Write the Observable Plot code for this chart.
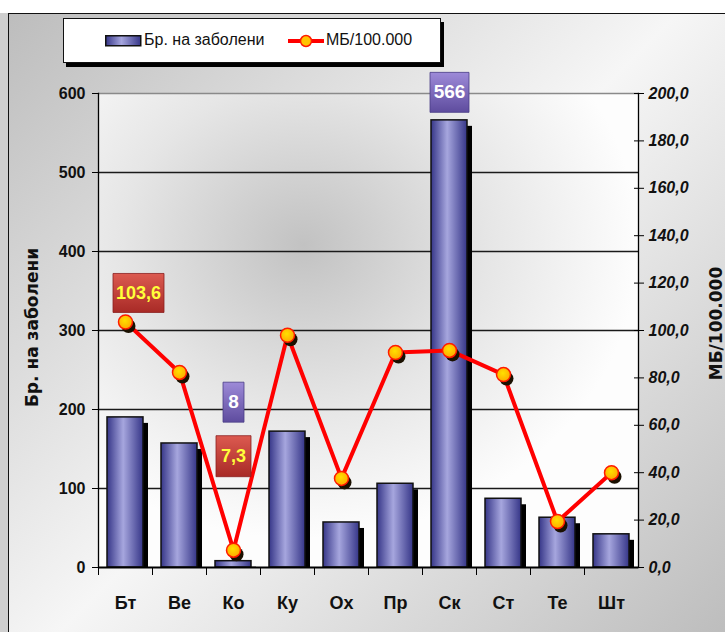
<!DOCTYPE html>
<html>
<head>
<meta charset="utf-8">
<script src="https://cdn.jsdelivr.net/npm/d3@7"></script>
<script src="https://cdn.jsdelivr.net/npm/@observablehq/plot@0.6"></script>
<style>
  html, body { margin: 0; padding: 0; background: #fff; }
  #wrap { position: relative; width: 725px; height: 632px; overflow: hidden;
    font-family: "Liberation Sans", Arial, sans-serif; }
  #bg { position: absolute; left: 8px; top: 13px; right: -2px; bottom: -2px;
    border: 1.5px solid #111;
    background: linear-gradient(135deg, #bdbdbd 0%, #f6f6f6 50%, #bdbdbd 100%); }
  #outer { position: absolute; left: 0; top: 13px; width: 8px; bottom: 0; background: #cfcfcf; }
  #chart { position: absolute; left: 0; top: 0; }
  #legend { position: absolute; left: 63px; top: 18px; width: 376px; height: 43px;
    background: #fff; border: 1px solid #111; box-shadow: 3px 4px 0 #000; }
  .lg { position: absolute; top: 12px; font-size: 16px; color: #111; white-space: nowrap; }
</style>
</head>
<body>
<div id="wrap">
  <div id="outer"></div>
  <div id="bg"></div>
  <div id="chart"></div>
  <div id="legend">
    <svg style="position:absolute;left:41px;top:16px" width="37" height="12">
      <defs><linearGradient id="lgBar" x1="0" x2="1"><stop offset="0" stop-color="#363688"/><stop offset="0.45" stop-color="#a6a6de"/><stop offset="1" stop-color="#363688"/></linearGradient></defs>
      <rect x="0.75" y="0.75" width="35" height="10" fill="url(#lgBar)" stroke="#111" stroke-width="1.5"/>
    </svg>
    <span class="lg" style="left:80px">Бр. на заболени</span>
    <svg style="position:absolute;left:224px;top:14px" width="38" height="16">
      <line x1="0" x2="36" y1="8" y2="8" stroke="#ff0000" stroke-width="4"/>
      <circle cx="18" cy="8" r="5.5" fill="#ffc400" stroke="#ff1a00" stroke-width="1.5"/>
    </svg>
    <span class="lg" style="left:262px">МБ/100.000</span>
  </div>
</div>
<script>
// ---- data ----
const districts = ["Бт", "Ве", "Ко", "Ку", "Ох", "Пр", "Ск", "Ст", "Те", "Шт"];
const cases = [190, 157, 8, 172, 57, 106, 566, 87, 63, 42];
const rates = [103.6, 82.3, 7.3, 98.0, 37.6, 90.7, 91.6, 81.4, 19.4, 40.0];
const leftTicks = [0, 100, 200, 300, 400, 500, 600];
const rightTicks = [0, 20, 40, 60, 80, 100, 120, 140, 160, 180, 200];
const leftTitle = "Бр. на заболени";
const rightTitle = "МБ/100.000";

const rows = districts.map((d, i) => ({district: d, cases: cases[i], rate: rates[i]}));
const ratio = 600 / 200; // right axis mapped onto left scale
const fmt = v => v.toFixed(1).replace(".", ",");

const FONT = "Liberation Sans, Arial, sans-serif";
const TITLE_FONT = "DejaVu Sans, Verdana, sans-serif";

function boxSymbol(w, h) {
  return { draw(ctx) { ctx.rect(-w / 2, -h / 2, w, h); } };
}

const bt = rows.find(r => r.district === "Бт");
const ko = rows.find(r => r.district === "Ко");
const sk = rows.find(r => r.district === "Ск");
const blank = () => "";

const plot = Plot.plot({
  width: 725,
  height: 632,
  marginTop: 93,
  marginBottom: 65,
  marginLeft: 98,
  marginRight: 87,
  style: { background: "transparent", fontFamily: FONT },
  x: { type: "band", domain: districts, paddingInner: 0.33, paddingOuter: 0.165 },
  y: { domain: [0, 600] },
  marks: [
    Plot.frame({ fill: "url(#plotGrad)", stroke: "none" }),
    Plot.ruleY(leftTicks.filter(t => t > 0 && t < 600), { stroke: "#1a1a1a", strokeWidth: 1.3 }),
    Plot.ruleY([600], { stroke: "#8a8a8a", strokeWidth: 1.5 }),
    // bar shadows
    Plot.barY(rows, { x: "district", y: "cases", fill: "#000", dx: 5, insetTop: 6 }),
    Plot.barY(rows, { x: "district", y: "cases", fill: "url(#barGrad)", stroke: "#111", strokeWidth: 1.5 }),
    Plot.ruleY([0], { stroke: "#000", strokeWidth: 2 }),
    Plot.frame({ anchor: "left", stroke: "#000", strokeWidth: 1.3 }),
    Plot.frame({ anchor: "right", stroke: "#000", strokeWidth: 1.3 }),
    // left axis
    Plot.axisY({ anchor: "left", ticks: leftTicks, tickSize: 6, tickPadding: 7, fontSize: 16,
      fontWeight: "bold", label: null, tickFormat: d => d, stroke: "#000", fill: "#111" }),
    // right axis (crossing ticks + italic labels)
    Plot.axisY({ anchor: "right", ticks: rightTicks.map(t => t * ratio), tickSize: 10, dx: -5,
      tickFormat: blank, label: null, stroke: "#000" }),
    Plot.axisY({ anchor: "right", ticks: rightTicks.map(t => t * ratio), tickSize: 0, tickPadding: 10,
      fontSize: 16, fontWeight: "bold", fontStyle: "italic", label: null, tickFormat: d => fmt(d / ratio), fill: "#111" }),
    // x axis: boundary ticks + labels
    Plot.axisX({ tickSize: 8, dx: -27, tickFormat: blank, label: null, stroke: "#000" }),
    Plot.axisX({ tickSize: 0, tickPadding: 29, fontSize: 18, fontWeight: "bold", label: null, fill: "#111" }),
    // axis titles
    Plot.text([leftTitle], { frameAnchor: "left", dx: -66, dy: -3, rotate: -90, textAnchor: "middle", text: d => d,
      fontSize: 17, fontWeight: "bold", fontFamily: TITLE_FONT, fill: "#111" }),
    Plot.text([rightTitle], { frameAnchor: "right", dx: 78, dy: -7, rotate: -90, textAnchor: "middle", text: d => d,
      fontSize: 17, fontWeight: "bold", fontFamily: TITLE_FONT, fill: "#111" }),
    // rate line
    Plot.line(rows, { x: "district", y: d => d.rate * ratio, stroke: "#ff0000", strokeWidth: 4 }),
    Plot.dot(rows, { x: "district", y: d => d.rate * ratio, r: 7, fill: "#1a1000", dx: 3, dy: 4 }),
    Plot.dot(rows, { x: "district", y: d => d.rate * ratio, r: 7, fill: "url(#dotGrad)", stroke: "#ff1a00", strokeWidth: 1.5 }),
    // data label boxes
    Plot.dot([bt], { x: "district", y: d => d.rate * ratio, dy: -29, dx: 13, r: 1, symbol: boxSymbol(51, 39), fill: "url(#redGrad)", stroke: "#8a2020", strokeWidth: 0.8 }),
    Plot.text([bt], { x: "district", y: d => d.rate * ratio, dy: -29, dx: 13, text: d => fmt(d.rate), fill: "#ffff3a", fontSize: 18, fontWeight: "bold" }),
    Plot.dot([ko], { x: "district", y: "cases", dy: -159, r: 1, symbol: boxSymbol(21, 40), fill: "url(#purpleGrad)", stroke: "#4a3e86", strokeWidth: 0.8 }),
    Plot.text([ko], { x: "district", y: "cases", dy: -159, text: d => d.cases, fill: "#fff", fontSize: 19, fontWeight: "bold" }),
    Plot.dot([ko], { x: "district", y: d => d.rate * ratio, dy: -94, r: 1, symbol: boxSymbol(35, 41), fill: "url(#redGrad)", stroke: "#8a2020", strokeWidth: 0.8 }),
    Plot.text([ko], { x: "district", y: d => d.rate * ratio, dy: -94, text: d => fmt(d.rate), fill: "#ffff3a", fontSize: 18, fontWeight: "bold" }),
    Plot.dot([sk], { x: "district", y: "cases", dy: -28, r: 1, symbol: boxSymbol(39, 40), fill: "url(#purpleGrad)", stroke: "#4a3e86", strokeWidth: 0.8 }),
    Plot.text([sk], { x: "district", y: "cases", dy: -28, text: d => d.cases, fill: "#fff", fontSize: 19, fontWeight: "bold" })
  ]
});

// gradient definitions
const svg = d3.select(plot);
const defs = svg.insert("defs", ":first-child");
function lin(id, vertical, stops) {
  const g = defs.append("linearGradient").attr("id", id)
    .attr("x1", 0).attr("y1", 0).attr("x2", vertical ? 0 : 1).attr("y2", vertical ? 1 : 0);
  stops.forEach(([o, c]) => g.append("stop").attr("offset", o).attr("stop-color", c));
}
lin("barGrad", false, [[0, "#363688"], [0.45, "#a6a6de"], [1, "#363688"]]);
lin("redGrad", true, [[0, "#dc5a50"], [1, "#a82a26"]]);
lin("purpleGrad", true, [[0, "#9d8ad8"], [1, "#5e4c9e"]]);
const dg = defs.append("radialGradient").attr("id", "dotGrad").attr("cx", 0.45).attr("cy", 0.4).attr("r", 0.6);
dg.append("stop").attr("offset", 0).attr("stop-color", "#ffe000");
dg.append("stop").attr("offset", 1).attr("stop-color", "#ffa800");
const pg = defs.append("radialGradient").attr("id", "plotGrad").attr("cx", 0.38).attr("cy", 0.32).attr("r", 0.62);
pg.append("stop").attr("offset", 0).attr("stop-color", "#c2c2c2");
pg.append("stop").attr("offset", 0.55).attr("stop-color", "#e6e6e6");
pg.append("stop").attr("offset", 1).attr("stop-color", "#fdfdfd");

document.getElementById("chart").appendChild(plot);
</script>
</body>
</html>
